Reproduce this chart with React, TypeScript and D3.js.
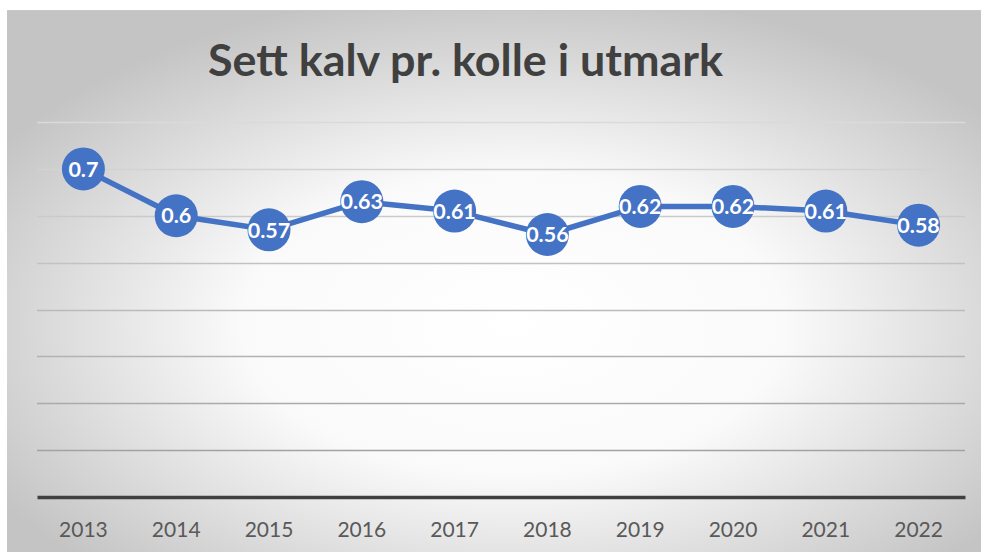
import { useRef, useEffect } from 'react';
import * as d3 from 'd3';

const years = ['2013', '2014', '2015', '2016', '2017', '2018', '2019', '2020', '2021', '2022'];
const values = [0.7, 0.6, 0.57, 0.63, 0.61, 0.56, 0.62, 0.62, 0.61, 0.58];
const gridTicks = [0.1, 0.2, 0.3, 0.4, 0.5, 0.6, 0.7, 0.8];
const title = 'Sett kalv pr. kolle i utmark';

const W = 981, H = 553;

const App = () => {
  const ref = useRef<SVGSVGElement>(null);

  useEffect(() => {
    const svg = d3.select(ref.current);
    svg.selectAll('*').remove();

    const margin = { top: 122, right: 16, bottom: 56, left: 37 };

    // background gradient, white in the middle, grey at edges
    const defs = svg.append('defs');
    const grad = defs.append('radialGradient')
      .attr('id', 'bg')
      .attr('cx', '52%').attr('cy', '58%').attr('r', '62%');
    grad.append('stop').attr('offset', '0%').attr('stop-color', '#ffffff');
    grad.append('stop').attr('offset', '45%').attr('stop-color', '#fafafa');
    grad.append('stop').attr('offset', '100%').attr('stop-color', '#c4c4c4');

    svg.append('rect')
      .attr('x', 7).attr('y', 10)
      .attr('width', W - 7).attr('height', H - 11)
      .attr('fill', 'url(#bg)');
    svg.append('line')
      .attr('x1', 7).attr('x2', W).attr('y1', 10.5).attr('y2', 10.5)
      .attr('stroke', '#c8c8c8').attr('stroke-width', 1);

    const x = d3.scaleBand<string>()
      .domain(years)
      .range([margin.left, W - margin.right]);

    const y = d3.scaleLinear()
      .domain([0, 0.8])
      .range([H - margin.bottom, margin.top]);

    const gridColor = d3.scaleLinear<string>()
      .domain([0.8, 0.1])
      .range(['#dadada', '#a2a2a2']);

    // gridlines
    svg.append('g')
      .selectAll('line')
      .data(gridTicks)
      .join('line')
      .attr('x1', margin.left).attr('x2', W - margin.right)
      .attr('y1', d => Math.round(y(d)) + 0.5).attr('y2', d => Math.round(y(d)) + 0.5)
      .attr('stroke', d => gridColor(d))
      .attr('stroke-width', 1.5);

    // x axis
    const xAxis = svg.append('g')
      .attr('transform', `translate(0,${y(0)})`)
      .call(d3.axisBottom(x).tickSize(0).tickPadding(25));
    xAxis.select('.domain')
      .attr('stroke', '#404040')
      .attr('stroke-width', 3.5);
    xAxis.selectAll('text')
      .attr('fill', '#595959')
      .attr('font-family', 'Lato, sans-serif')
      .attr('font-size', 21);

    const cx = (d: string) => (x(d) ?? 0) + x.bandwidth() / 2;
    const pts = years.map((yr, i) => ({ yr, v: values[i] }));

    const line = d3.line<{ yr: string; v: number }>()
      .x(d => cx(d.yr))
      .y(d => y(d.v));

    svg.append('path')
      .datum(pts)
      .attr('fill', 'none')
      .attr('stroke', '#4472c4')
      .attr('stroke-width', 5.5)
      .attr('stroke-linejoin', 'round')
      .attr('d', line);

    svg.append('g')
      .selectAll('circle')
      .data(pts)
      .join('circle')
      .attr('cx', d => cx(d.yr))
      .attr('cy', d => y(d.v))
      .attr('r', 21.5)
      .attr('fill', '#4472c4');

    svg.append('g')
      .selectAll('text')
      .data(pts)
      .join('text')
      .attr('x', d => cx(d.yr))
      .attr('y', d => y(d.v))
      .attr('dy', '0.36em')
      .attr('text-anchor', 'middle')
      .attr('fill', '#ffffff')
      .attr('font-family', 'Lato, sans-serif')
      .attr('font-weight', 'bold')
      .attr('font-size', 21.5)
      .text(d => String(d.v));

    svg.append('text')
      .attr('x', 465.5)
      .attr('y', 76)
      .attr('text-anchor', 'middle')
      .attr('fill', '#404040')
      .attr('font-family', 'Lato, sans-serif')
      .attr('font-weight', 'bold')
      .attr('font-size', 43)
      .attr('textLength', 515)
      .attr('lengthAdjust', 'spacingAndGlyphs')
      .text(title);
  }, []);

  return (
    <svg ref={ref} width={W} height={H}
      style={{ position: 'absolute', left: 0, top: 0, background: '#ffffff' }} />
  );
};

export default App;
